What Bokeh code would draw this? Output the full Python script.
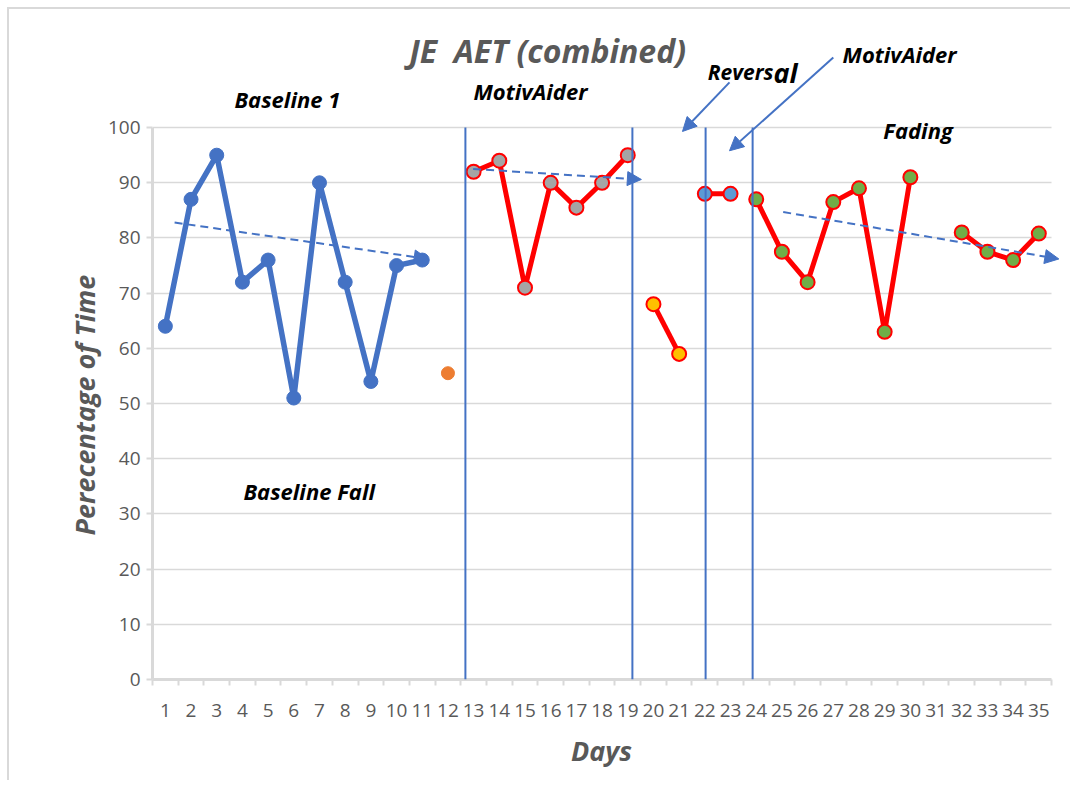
from bokeh.plotting import figure
from bokeh.models import FixedTicker, Arrow, NormalHead, Label, Range1d
from bokeh.embed import file_html
from bokeh.resources import INLINE

# ---------------- data ----------------
days = list(range(1, 36))
day_labels = [str(d) for d in days]
y_ticks = list(range(0, 101, 10))

baseline1_days = list(range(1, 12))
baseline1_vals = [64, 87, 95, 72, 76, 51, 90, 72, 54, 75, 76]

baseline_fall_days = [12]
baseline_fall_vals = [55.5]

motiv1_days = list(range(13, 20))
motiv1_vals = [92, 94, 71, 90, 85.5, 90, 95]

reversal_days = [20, 21]
reversal_vals = [68, 59]

motiv2_days = [22, 23]
motiv2_vals = [88, 88]

fading_days = [24, 25, 26, 27, 28, 29, 30, 31, 32, 33, 34, 35]
fading_vals = [87, 77.5, 72, 86.5, 89, 63, 91, float("nan"), 81, 77.5, 76, 80.8]

# phase change lines (x in day units, between days)
phase_x = [12.68, 19.18, 22.03, 23.86]
phase_bottom = [0, 0, 0, 0]
phase_top = [100, 100, 100, 100]

# trend lines: (x0, y0, x1, y1)
trend_baseline = (1.36, 82.8, 11.23, 76.2)
trend_motiv = (12.98, 92.5, 19.53, 90.6)
trend_fading = (25.05, 84.7, 35.78, 76.2)

# callout arrows
callout_reversal = (22.96, 108.2, 21.13, 99.3)
callout_motiv = (27.0, 112.7, 22.96, 95.8)

BLUE = "#4472C4"
RED = "#FF0000"
GRID = "#D9D9D9"
TXT = "#595959"
FONT = "Open Sans"
NB = "\u00a0"

p = figure(width=1070, height=780, output_backend="svg", toolbar_location=None,
           x_range=Range1d(0.5, 36.0), y_range=Range1d(0, 118.5),
           min_border_left=152, min_border_right=6, min_border_top=25,
           min_border_bottom=101)
p.outline_line_color = None
p.border_fill_color = None
p.styles = {
    "background": "linear-gradient(#D9D9D9,#D9D9D9) 7px 7px / 2px 100% no-repeat, "
                  "linear-gradient(#D9D9D9,#D9D9D9) 7px 7px / 100% 2px no-repeat, white"
}
p.xgrid.grid_line_color = None
p.ygrid.grid_line_color = GRID
p.ygrid.grid_line_width = 1.5
p.ygrid.ticker = FixedTicker(ticks=y_ticks)
try:
    p.ygrid.cross_bounds = (0.5, 35.5)
except Exception:
    pass

# y axis
p.yaxis.bounds = (0, 100)
p.yaxis.ticker = FixedTicker(ticks=y_ticks)
p.yaxis.axis_line_color = GRID
p.yaxis.axis_line_width = 3
p.yaxis.major_tick_line_color = GRID
p.yaxis.major_tick_line_width = 2
p.yaxis.major_tick_in = 0
p.yaxis.major_tick_out = 6
p.yaxis.minor_tick_line_color = None
p.yaxis.major_label_text_font = FONT
p.yaxis.major_label_text_font_size = "19px"
p.yaxis.major_label_text_color = TXT
p.yaxis.major_label_standoff = 6
p.yaxis.axis_label = "Perecentage of Time" + NB * 15
p.yaxis.axis_label_text_font = FONT
p.yaxis.axis_label_text_font_size = "27px"
p.yaxis.axis_label_text_font_style = "bold italic"
p.yaxis.axis_label_text_color = TXT
p.yaxis.axis_label_standoff = 2

# x axis
p.xaxis.bounds = (0.5, 35.5)
p.xaxis.ticker = FixedTicker(ticks=days, minor_ticks=[d - 0.5 for d in days] + [35.5])
p.xaxis.major_label_overrides = {d: l for d, l in zip(days, day_labels)}
p.xaxis.axis_line_color = GRID
p.xaxis.axis_line_width = 3
p.xaxis.major_tick_line_color = None
p.xaxis.minor_tick_line_color = GRID
p.xaxis.minor_tick_line_width = 2
p.xaxis.minor_tick_in = 0
p.xaxis.minor_tick_out = 6
p.xaxis.major_label_text_font = FONT
p.xaxis.major_label_text_font_size = "19px"
p.xaxis.major_label_text_color = TXT
p.xaxis.major_label_standoff = 18
p.xaxis.axis_label = "Days" + NB * 2
p.xaxis.axis_label_text_font = FONT
p.xaxis.axis_label_text_font_size = "27px"
p.xaxis.axis_label_text_font_style = "bold italic"
p.xaxis.axis_label_text_color = TXT
p.xaxis.axis_label_standoff = 12

# phase lines
for x, b, t in zip(phase_x, phase_bottom, phase_top):
    p.add_layout(Arrow(end=None, x_start=x, y_start=b, x_end=x, y_end=t,
                       line_color=BLUE, line_width=2))

# baseline 1
p.line(baseline1_days, baseline1_vals, line_color=BLUE, line_width=5.5)
p.scatter(baseline1_days, baseline1_vals, size=14, fill_color=BLUE, line_color=BLUE)

# baseline fall
p.scatter(baseline_fall_days, baseline_fall_vals, size=13, fill_color="#ED7D31", line_color="#ED7D31")

# red series
for ds, vs, fc in [(motiv1_days, motiv1_vals, "#A5A5A5"),
                   (reversal_days, reversal_vals, "#FFC000"),
                   (motiv2_days, motiv2_vals, "#5B9BD5"),
                   (fading_days, fading_vals, "#70AD47")]:
    p.line(ds, vs, line_color=RED, line_width=5)
    p.scatter(ds, vs, size=14, fill_color=fc, line_color=RED, line_width=2)

# trend lines
for (x0, y0, x1, y1) in [trend_baseline, trend_motiv, trend_fading]:
    p.add_layout(Arrow(end=NormalHead(size=14, fill_color=BLUE, line_color=BLUE),
                       x_start=x0, y_start=y0, x_end=x1, y_end=y1,
                       line_color=BLUE, line_width=2, line_dash="8 5"))

# callouts
for (x0, y0, x1, y1) in [callout_reversal, callout_motiv]:
    p.add_layout(Arrow(end=NormalHead(size=14, fill_color=BLUE, line_color=BLUE),
                       x_start=x0, y_start=y0, x_end=x1, y_end=y1,
                       line_color=BLUE, line_width=2))

def lab(x, y, text, size, color="black", align="center", baseline="middle"):
    p.add_layout(Label(x=x, y=y, text=text, text_font=FONT, text_font_size=size,
                       text_font_style="bold italic", text_color=color,
                       text_align=align, text_baseline=baseline))

lab(15.88, 113.9, "JE" + NB + " AET (combined)", "32px", TXT)
lab(5.75, 105.1, "Baseline 1", "22px")
lab(15.21, 106.7, "MotivAider", "22px")
lab(24.67, 110.0, "Revers", "21px", align="right", baseline="alphabetic")
lab(24.67, 110.0, "al", "27px", align="left", baseline="alphabetic")
lab(29.58, 113.4, "MotivAider", "22px")
lab(30.3, 99.5, "Fading", "22px")
lab(6.6, 34.1, "Baseline Fall", "22px")

open("out.html", "w").write(file_html(p, INLINE))
